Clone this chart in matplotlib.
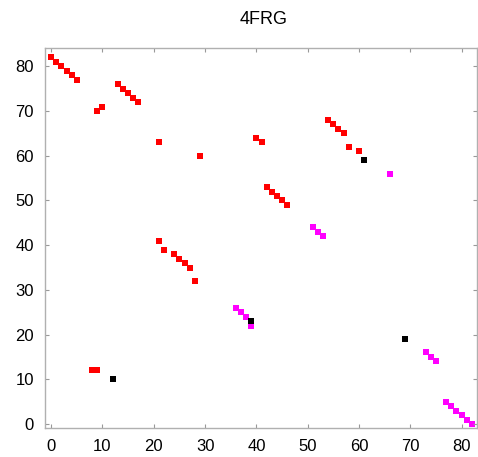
import matplotlib
matplotlib.use("Agg")
import matplotlib.pyplot as plt

plt.rcParams['font.family'] = ['Liberation Sans', 'DejaVu Sans']

title = "4FRG"

red_x = [0, 1, 2, 3, 4, 5, 9, 10, 13, 14, 15, 16, 17, 21, 29, 40, 41,
         42, 43, 44, 45, 46, 21, 22, 24, 25, 26, 27, 28, 54, 55, 56, 57, 58, 60, 8, 9]
red_y = [82, 81, 80, 79, 78, 77, 70, 71, 76, 75, 74, 73, 72, 63, 60, 64, 63,
         53, 52, 51, 50, 49, 41, 39, 38, 37, 36, 35, 32, 68, 67, 66, 65, 62, 61, 12, 12]

magenta_x = [51, 52, 53, 36, 37, 38, 39, 66, 73, 74, 75, 77, 78, 79, 80, 81, 82]
magenta_y = [44, 43, 42, 26, 25, 24, 22, 56, 16, 15, 14, 5, 4, 3, 2, 1, 0]

black_x = [39, 61, 69, 12]
black_y = [23, 59, 19, 10]

x_ticks = [0, 10, 20, 30, 40, 50, 60, 70, 80]
y_ticks = [0, 10, 20, 30, 40, 50, 60, 70, 80]

fig = plt.figure(figsize=(4.78, 4.57), dpi=100)
ax = fig.add_axes([45 / 478, 1 - 428 / 457, (477 - 45) / 478, (428 - 48) / 457])

ax.scatter(red_x, red_y, marker='s', s=22, color='#ff0000', linewidths=0)
ax.scatter(magenta_x, magenta_y, marker='s', s=22, color='#ff00ff', linewidths=0)
ax.scatter(black_x, black_y, marker='s', s=18, color='#000000', linewidths=0)

ax.set_xlim(-1.2, 83.0)
ax.set_ylim(-0.9, 84.1)
ax.set_xticks(x_ticks)
ax.set_yticks(y_ticks)
ax.tick_params(direction='in', length=3, width=0.8, color='#999999',
               labelsize=12, top=True, right=True, labeltop=False, labelright=False)
ax.tick_params(axis='x', pad=8)
ax.tick_params(axis='y', pad=8)
for s in ax.spines.values():
    s.set_color('#b0b0b0')
    s.set_linewidth(1.0)

fig.text(264 / 478, 1 - 20 / 457, title, ha='center', va='center', fontsize=13)

fig.savefig("out.png", dpi=100)
